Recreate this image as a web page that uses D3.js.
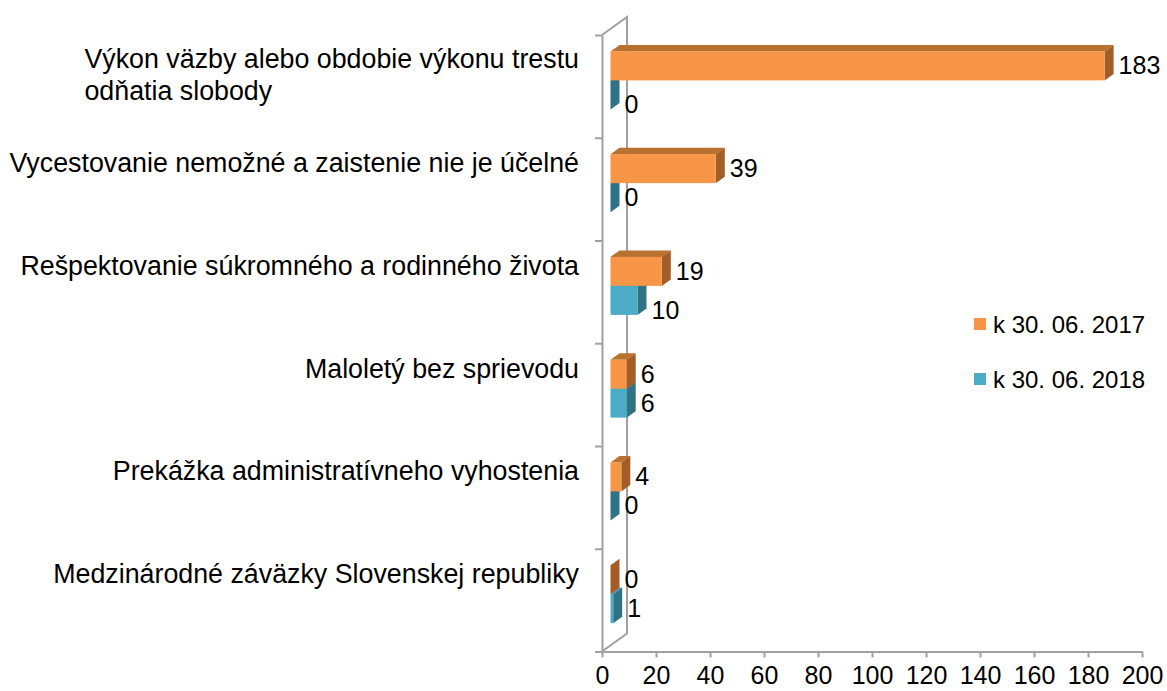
<!doctype html>
<html lang="sk">
<head>
<meta charset="utf-8">
<title>Dôvody udelenia tolerovaného pobytu</title>
<script src="https://cdn.jsdelivr.net/npm/d3@7"></script>
<style>
  body { margin: 0; background: #fff; }
  text { font-family: "Liberation Sans", Arial, sans-serif; fill: #000; }
</style>
</head>
<body>
<svg id="chart" width="1167" height="691"></svg>
<script>
// data
const categories = [
  ["Výkon väzby alebo obdobie výkonu trestu", "odňatia slobody"],
  ["Vycestovanie nemožné a zaistenie nie je účelné"],
  ["Rešpektovanie súkromného a rodinného života"],
  ["Maloletý bez sprievodu"],
  ["Prekážka administratívneho vyhostenia"],
  ["Medzinárodné záväzky Slovenskej republiky"]
];
const seriesNames = ["k 30. 06. 2017", "k 30. 06. 2018"];
const values2017 = [183, 39, 19, 6, 4, 0];
const values2018 = [0, 0, 10, 6, 0, 1];
const xTicks = [0, 20, 40, 60, 80, 100, 120, 140, 160, 180, 200];

// styling
const colors = [
  { front: "#F79646", top: "#B9712F", side: "#A35E28" },
  { front: "#4BACC6", top: "#3A8EA4", side: "#2F7385" }
];
const axisColor = "#A0A0A0";
const wallDepth = { x: 25, y: -18 };   // projected depth of the side wall
const barFront = { x: 8.5, y: -6 };    // bars sit a bit behind the front plane
const barDepth = { x: 9, y: -6.5 };
const barH = 29;
// Excel pushed a couple of labels down
const labelNudge = { "1-0": 10, "1-2": 10.5 };

const svg = d3.select("#chart");

const x = d3.scaleLinear().domain([0, 200]).range([602, 1142]);
const idx = d3.scaleLinear().domain([0, categories.length]).range([35, 651.5]);
const band = (idx(1) - idx(0));
const center = i => idx(i) + band / 2;

// side wall
const x0 = x(0);
svg.append("path")
  .attr("d", `M${x0},${idx(0)} L${x0 + wallDepth.x},${idx(0) + wallDepth.y}` +
             ` L${x0 + wallDepth.x},${idx(6) + wallDepth.y} L${x0},${idx(6)}`)
  .attr("fill", "none")
  .attr("stroke", axisColor)
  .attr("stroke-width", 2);

// category axis (ticks at band boundaries)
const yAxis = svg.append("g")
  .attr("transform", `translate(${x0},0)`)
  .call(d3.axisLeft(idx).tickValues(d3.range(0, 7)).tickFormat("").tickSize(7).tickSizeOuter(0));
yAxis.selectAll("path, line").attr("stroke", axisColor).attr("stroke-width", 2);

// value axis
const xAxis = svg.append("g")
  .attr("transform", `translate(0,${idx(6)})`)
  .call(d3.axisBottom(x).tickValues(xTicks).tickSize(6).tickSizeOuter(0).tickPadding(9));
xAxis.selectAll("path, line").attr("stroke", axisColor).attr("stroke-width", 2);
xAxis.selectAll("text")
  .attr("font-size", 25)
  .attr("font-family", '"Liberation Sans", Arial, sans-serif')
  .attr("fill", "#000");

// bars
const series = [values2017, values2018];
const bars = svg.append("g");
categories.forEach((c, i) => {
  const yTop = center(i) - barH + barFront.y;
  // draw lower series first so the upper bar covers its top face
  [1, 0].forEach(s => {
    const v = series[s][i];
    const col = colors[s];
    const yt = yTop + s * barH, yb = yt + barH;
    const xl = x(0) + barFront.x, xr = x(v) + barFront.x;
    const dx = barDepth.x, dy = barDepth.y;
    bars.append("path")
      .attr("d", `M${xl},${yt} L${xr},${yt} L${xr + dx},${yt + dy} L${xl + dx},${yt + dy}Z`)
      .attr("fill", col.top);
    bars.append("path")
      .attr("d", `M${xr},${yt} L${xr + dx},${yt + dy} L${xr + dx},${yb + dy} L${xr},${yb}Z`)
      .attr("fill", col.side);
    if (v > 0) {
      bars.append("rect")
        .attr("x", xl).attr("y", yt)
        .attr("width", xr - xl).attr("height", barH)
        .attr("fill", col.front);
    }
  });
});

// value labels
categories.forEach((c, i) => {
  const yTop = center(i) - barH + barFront.y;
  [0, 1].forEach(s => {
    const v = series[s][i];
    const nudge = labelNudge[`${s}-${i}`] || 0;
    svg.append("text")
      .attr("x", x(v) + barFront.x + barDepth.x + 5)
      .attr("y", yTop + s * barH + barH / 2 + 8.5 + nudge)
      .attr("font-size", 25)
      .text(v);
  });
});

// category labels
categories.forEach((lines, i) => {
  const g = svg.append("g");
  const base = lines.length > 1 ? center(i) - 18 : center(i) - 17;
  const first = g.append("text")
    .attr("x", 579)
    .attr("y", base)
    .attr("text-anchor", "end")
    .attr("font-size", 26.8)
    .text(lines[0]);
  const startX = 579 - first.node().getComputedTextLength();
  lines.slice(1).forEach((l, j) => {
    g.append("text")
      .attr("x", startX)
      .attr("y", base + 32 * (j + 1))
      .attr("font-size", 26.8)
      .text(l);
  });
});

// legend
const legend = svg.append("g").attr("transform", "translate(974,318)");
seriesNames.forEach((name, s) => {
  legend.append("rect")
    .attr("x", 0).attr("y", s * 55)
    .attr("width", 12).attr("height", 12)
    .attr("fill", colors[s].front);
  legend.append("text")
    .attr("x", 19).attr("y", s * 55 + 14.5)
    .attr("font-size", 24)
    .text(name);
});
</script>
</body>
</html>
